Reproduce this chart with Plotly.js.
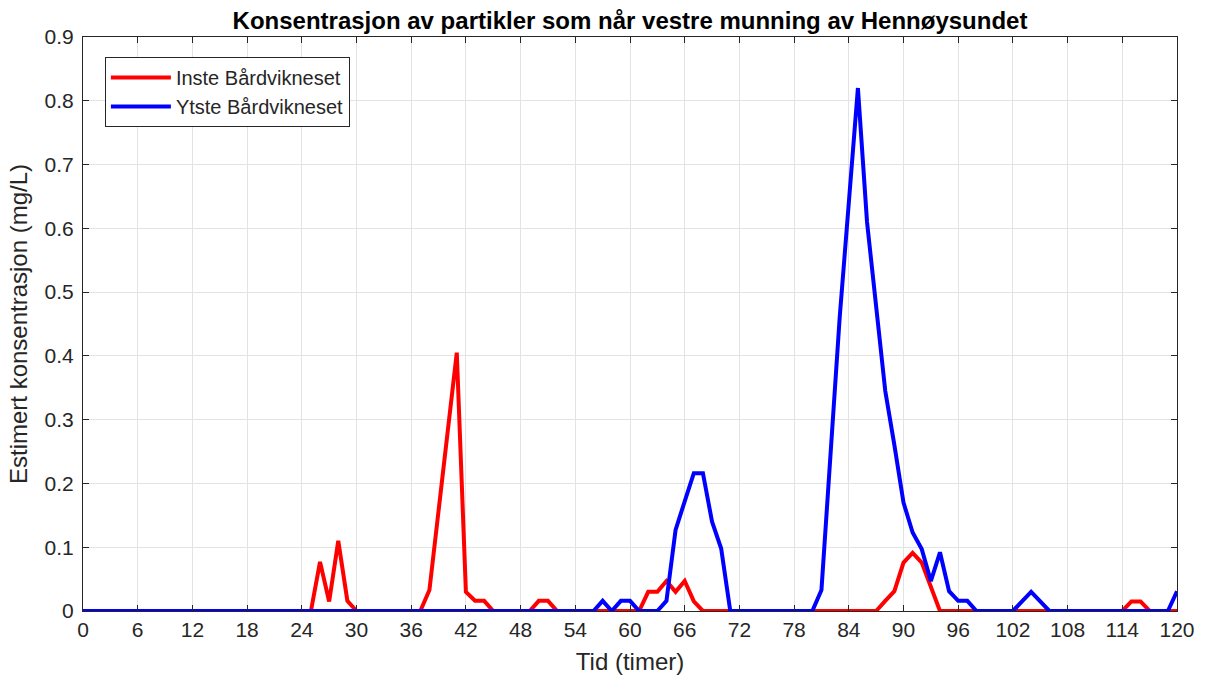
<!DOCTYPE html>
<html>
<head>
<meta charset="utf-8">
<script src="https://cdn.plot.ly/plotly-3.0.1.min.js"></script>
<style>html,body{margin:0;padding:0;background:#fff;}#chart{width:1205px;height:680px;}</style>
</head>
<body>
<div id="chart"></div>
<script>
// Time in hours 0..120
const hours = [];
for (let h = 0; h <= 120; h++) hours.push(h);

// Inste Bårdvikneset (red), values per hour
const inste = [
  0,0,0,0,0,0,0,0,0,0,            // 0-9
  0,0,0,0,0,0,0,0,0,0,            // 10-19
  0,0,0,0,0,0,0.077,0.015,0.110,0.016, // 20-29
  0,0,0,0,0,0,0,0,0.033,0.155,    // 30-39
  0.28,0.405,0.030,0.016,0.016,0,0,0,0,0, // 40-49
  0.016,0.016,0,0,0,0,0,0,0,0,    // 50-59
  0,0,0.030,0.030,0.047,0.030,0.047,0.015,0,0, // 60-69
  0,0,0,0,0,0,0,0,0,0,            // 70-79
  0,0,0,0,0,0,0,0,0.016,0.031,    // 80-89
  0.076,0.091,0.076,0.037,0,0,0,0,0,0, // 90-99
  0,0,0,0,0,0,0,0,0,0,            // 100-109
  0,0,0,0,0,0.015,0.015,0,0,0,    // 110-119
  0                               // 120
];

// Ytste Bårdvikneset (blue), values per hour
const ytste = [
  0,0,0,0,0,0,0,0,0,0,            // 0-9
  0,0,0,0,0,0,0,0,0,0,            // 10-19
  0,0,0,0,0,0,0,0,0,0,            // 20-29
  0,0,0,0,0,0,0,0,0,0,            // 30-39
  0,0,0,0,0,0,0,0,0,0,            // 40-49
  0,0,0,0,0,0,0,0.016,0,0.016,    // 50-59
  0.016,0,0,0,0.016,0.127,0.172,0.216,0.216,0.140, // 60-69
  0.098,0,0,0,0,0,0,0,0,0,        // 70-79
  0,0.033,0.245,0.46,0.64,0.82,0.61,0.47,0.345,0.26, // 80-89
  0.17,0.123,0.097,0.047,0.092,0.031,0.016,0.016,0,0, // 90-99
  0,0,0,0.015,0.030,0.015,0,0,0,0, // 100-109
  0,0,0,0,0,0,0,0,0,0,            // 110-119
  0.031                           // 120
];

const seriesNames = ['Inste Bårdvikneset', 'Ytste Bårdvikneset'];
const xTicks = [0,6,12,18,24,30,36,42,48,54,60,66,72,78,84,90,96,102,108,114,120];
const yTicks = [0,0.1,0.2,0.3,0.4,0.5,0.6,0.7,0.8,0.9];
const yTickText = ['0','0.1','0.2','0.3','0.4','0.5','0.6','0.7','0.8','0.9'];

const font = 'Liberation Sans, Arial, Helvetica, sans-serif';

const traces = [
  {x: hours, y: inste, type: 'scatter', mode: 'lines', name: seriesNames[0],
   line: {color: '#ff0000', width: 4}},
  {x: hours, y: ytste, type: 'scatter', mode: 'lines', name: seriesNames[1],
   line: {color: '#0000ff', width: 4}}
];

const axisCommon = {
  showline: true, linecolor: '#262626', linewidth: 1, mirror: 'ticks',
  ticks: 'inside', ticklen: 6, tickcolor: '#262626', tickwidth: 1,
  showgrid: true, gridcolor: '#e3e3e3', gridwidth: 1, zeroline: false
};

const layout = {
  width: 1205, height: 680,
  margin: {l: 83, r: 28, t: 37, b: 69},
  paper_bgcolor: '#ffffff', plot_bgcolor: '#ffffff',
  showlegend: true,
  title: {text: '<b>Konsentrasjon av partikler som når vestre munning av Hennøysundet</b>',
          font: {family: font, size: 24, color: '#000'},
          x: 0.5, xref: 'paper', xanchor: 'center', y: 0.97, yref: 'container', yanchor: 'middle'},
  xaxis: Object.assign({}, axisCommon, {
    range: [0, 120], tickvals: xTicks, ticktext: xTicks.map(String),
    tickfont: {family: font, size: 21, color: '#262626'},
    title: {text: 'Tid (timer)', font: {family: font, size: 24, color: '#262626'}, standoff: 12}
  }),
  yaxis: Object.assign({}, axisCommon, {
    range: [0, 0.9], tickvals: yTicks, ticktext: yTickText,
    tickfont: {family: font, size: 21, color: '#262626'},
    ticklabelstandoff: 4,
    title: {text: 'Estimert konsentrasjon (mg/L)', font: {family: font, size: 24, color: '#262626'}, standoff: 10}
  }),
  legend: {
    x: 0.02, y: 0.965, xanchor: 'left', yanchor: 'top',
    bgcolor: '#ffffff', bordercolor: '#262626', borderwidth: 1,
    font: {family: font, size: 20, color: '#262626'},
    tracegroupgap: 0, itemwidth: 60
  }
};

Plotly.newPlot('chart', traces, layout, {displayModeBar: false, staticPlot: true});
</script>
</body>
</html>
